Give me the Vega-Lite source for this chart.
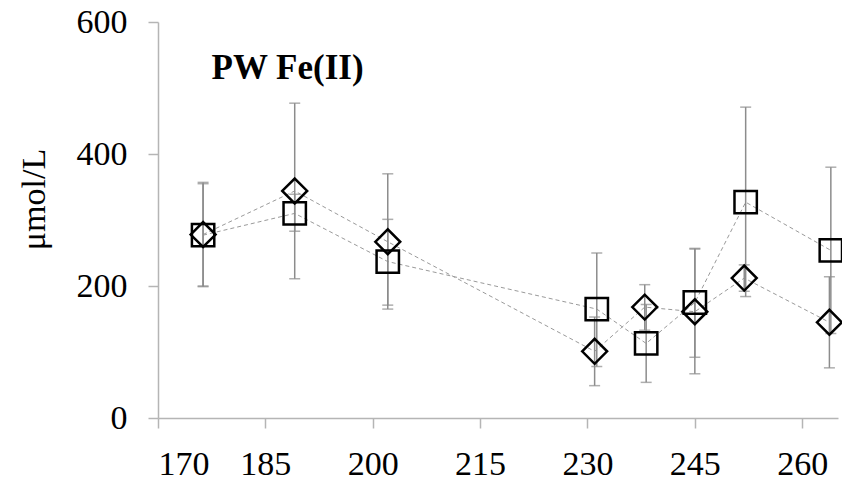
{
  "$schema": "https://vega.github.io/schema/vega-lite/v6.json",
  "width": 680,
  "height": 396,
  "autosize": {"type": "none"},
  "padding": {"left": 158, "top": 22, "right": 4, "bottom": 67},
  "background": "white",
  "config": {
    "view": {"stroke": null},
    "font": "Liberation Serif",
    "axis": {
      "grid": false,
      "domainColor": "#b5b5b5",
      "domainWidth": 1.5,
      "tickColor": "#b5b5b5",
      "tickWidth": 1.5,
      "tickSize": 10,
      "labelFont": "Liberation Serif",
      "labelFontSize": 34,
      "labelColor": "black",
      "titleFont": "Liberation Serif",
      "titleFontSize": 34,
      "titleFontWeight": "normal",
      "titleColor": "black"
    }
  },
  "data": {
    "values": [
      {"x": 176.3, "y": 278, "lo": 199, "hi": 357, "s": "D"},
      {"x": 189.1, "y": 344, "lo": 211, "hi": 477, "s": "D"},
      {"x": 202.1, "y": 267, "lo": 165, "hi": 370, "s": "D"},
      {"x": 231.0, "y": 101, "lo": 49, "hi": 153, "s": "D"},
      {"x": 238.0, "y": 168, "lo": 133, "hi": 202, "s": "D"},
      {"x": 245.0, "y": 161, "lo": 67, "hi": 256, "s": "D"},
      {"x": 251.9, "y": 212, "lo": 192, "hi": 232, "s": "D"},
      {"x": 263.8, "y": 145, "lo": 76, "hi": 214, "s": "D"},
      {"x": 176.3, "y": 277, "lo": 200, "hi": 355, "s": "S"},
      {"x": 189.1, "y": 310, "lo": 283, "hi": 339, "s": "S"},
      {"x": 202.1, "y": 237, "lo": 171, "hi": 301, "s": "S"},
      {"x": 231.3, "y": 165, "lo": 78, "hi": 250, "s": "S"},
      {"x": 238.2, "y": 113, "lo": 54, "hi": 172, "s": "S"},
      {"x": 245.0, "y": 175, "lo": 92, "hi": 257, "s": "S"},
      {"x": 252.1, "y": 327, "lo": 184, "hi": 471, "s": "S"},
      {"x": 264.0, "y": 254, "lo": 128, "hi": 380, "s": "S"}
    ]
  },
  "encoding": {
    "x": {
      "field": "x", "type": "quantitative",
      "scale": {"domain": [170, 265], "nice": false, "zero": false},
      "axis": {"values": [170, 185, 200, 215, 230, 245, 260], "title": null, "labelPadding": 19}
    }
  },
  "layer": [
    {
      "mark": {"type": "line", "color": "#9a9a9a", "strokeWidth": 1, "strokeDash": [4, 3]},
      "encoding": {
        "y": {
          "field": "y", "type": "quantitative",
          "scale": {"domain": [0, 600], "nice": false},
          "axis": {"values": [0, 200, 400, 600], "title": "μmol/L", "labelPadding": 21, "titlePadding": 25, "titleY": 177}
        },
        "detail": {"field": "s"}
      }
    },
    {
      "mark": {"type": "rule", "color": "#8c8c8c", "strokeWidth": 1.5},
      "encoding": {
        "y": {"field": "lo", "type": "quantitative"},
        "y2": {"field": "hi"}
      }
    },
    {
      "mark": {"type": "tick", "color": "#8c8c8c", "thickness": 1.5, "size": 11, "orient": "horizontal"},
      "encoding": {"y": {"field": "lo", "type": "quantitative"}}
    },
    {
      "mark": {"type": "tick", "color": "#8c8c8c", "thickness": 1.5, "size": 11, "orient": "horizontal"},
      "encoding": {"y": {"field": "hi", "type": "quantitative"}}
    },
    {
      "mark": {"type": "point", "filled": false, "stroke": "black", "strokeWidth": 2.5, "opacity": 1},
      "encoding": {
        "y": {"field": "y", "type": "quantitative"},
        "shape": {"field": "s", "type": "nominal", "scale": {"domain": ["D", "S"], "range": ["diamond", "square"]}, "legend": null},
        "size": {"field": "s", "type": "nominal", "scale": {"domain": ["D", "S"], "range": [620, 500]}, "legend": null}
      }
    },
    {
      "data": {"values": [{"label": "PW Fe(II)", "lx": 188.1, "ly": 513.6}]},
      "mark": {"type": "text", "font": "Liberation Serif", "fontSize": 35, "fontWeight": "bold", "color": "black", "baseline": "alphabetic", "align": "center"},
      "encoding": {
        "x": {"field": "lx", "type": "quantitative"},
        "y": {"field": "ly", "type": "quantitative"},
        "text": {"field": "label"}
      }
    }
  ]
}
